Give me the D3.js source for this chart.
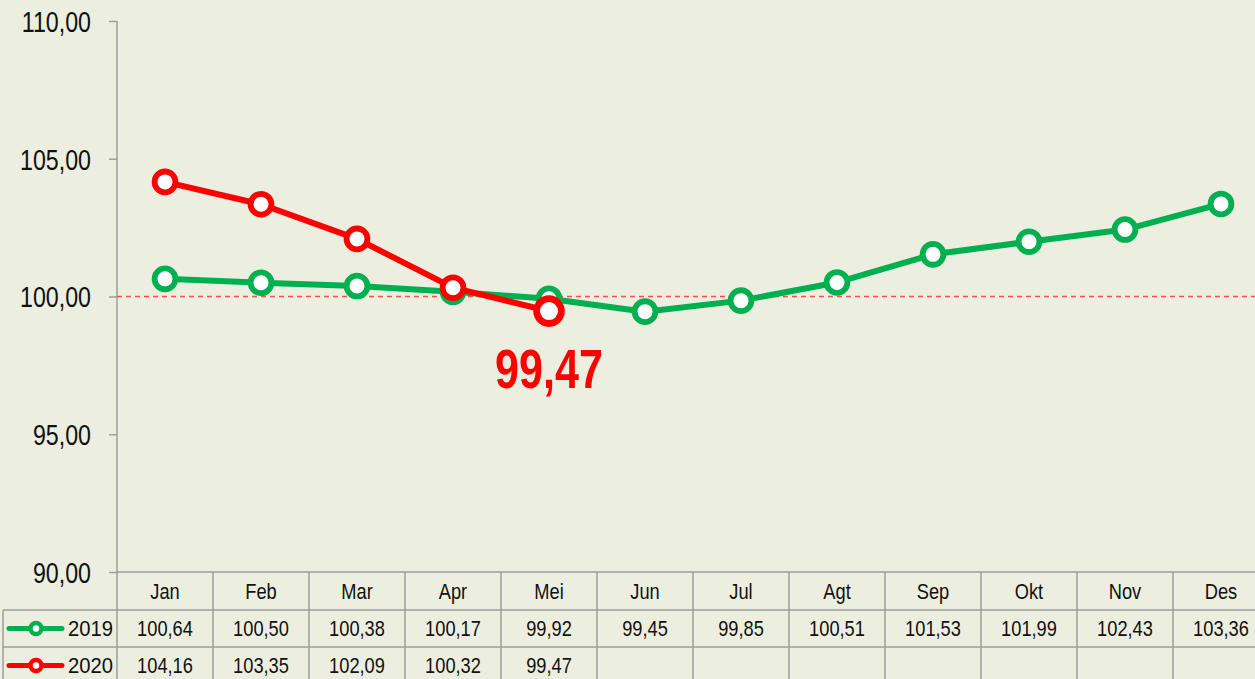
<!DOCTYPE html>
<html><head><meta charset="utf-8">
<script src="https://cdn.jsdelivr.net/npm/d3@7"></script>
<style>
html,body{margin:0;padding:0;background:#ECEFDF;}
svg{display:block;}
</style></head>
<body>
<svg id="c" width="1255" height="679"></svg>
<script>
const months = ["Jan","Feb","Mar","Apr","Mei","Jun","Jul","Agt","Sep","Okt","Nov","Des"];
const values2019 = [100.64,100.50,100.38,100.17,99.92,99.45,99.85,100.51,101.53,101.99,102.43,103.36];
const values2020 = [104.16,103.35,102.09,100.32,99.47];
const yTicks = [90,95,100,105,110];
const seriesNames = ["2019","2020"];
const seriesColors = ["#00B050","#FF0000"];
const highlightLabel = "99,47";

(function(){
const FONT = "'Liberation Sans',Arial,sans-serif";
const fmt = v => v.toFixed(2).replace(".", ",");
const NARROW = 0.83;

const svg = d3.select("#c");
const plotLeft = 117, plotTop = 21, plotBottom = 572;
const colW = 96;
const x = d3.scaleBand().domain(months).range([plotLeft, plotLeft + colW*months.length]).padding(0);
const y = d3.scaleLinear().domain([90,110]).range([plotBottom, plotTop]);
const cx = m => x(m) + x.bandwidth()/2;

const grid = "#9E9E9E";

// Y axis
const yAxis = d3.axisLeft(y).tickValues(yTicks).tickSize(8).tickFormat(fmt);
const ya = svg.append("g").attr("transform", `translate(${plotLeft},0)`).call(yAxis);
ya.select(".domain").remove();
ya.selectAll(".tick line").attr("stroke", grid).attr("stroke-width", 1.5);
ya.selectAll(".tick text").attr("font-family", FONT).attr("font-size", 29).attr("fill", "#111")
  .attr("x", 0).attr("dy", "0.36em")
  .attr("transform", `translate(-26,0) scale(0.8,1)`);

const rowH = [572, 610, 647, 684];
svg.append("line").attr("x1", plotLeft).attr("x2", plotLeft).attr("y1", plotTop).attr("y2", 684).attr("stroke", grid).attr("stroke-width", 1.5);

svg.append("line").attr("x1", plotLeft).attr("x2", 1270).attr("y1", rowH[0]).attr("y2", rowH[0]).attr("stroke", grid).attr("stroke-width", 1.5);
svg.append("line").attr("x1", 3).attr("x2", 1270).attr("y1", rowH[1]).attr("y2", rowH[1]).attr("stroke", grid).attr("stroke-width", 1.5);
svg.append("line").attr("x1", 3).attr("x2", 1270).attr("y1", rowH[2]).attr("y2", rowH[2]).attr("stroke", grid).attr("stroke-width", 1.5);
svg.append("line").attr("x1", 3).attr("x2", 3).attr("y1", rowH[1]).attr("y2", 684).attr("stroke", grid).attr("stroke-width", 1.5);
svg.append("g").selectAll("line").data(months.slice(1)).join("line")
  .attr("x1", d => x(d)).attr("x2", d => x(d))
  .attr("y1", rowH[0]).attr("y2", 684)
  .attr("stroke", grid).attr("stroke-width", 1.5);

svg.append("g").selectAll("text").data(months).join("text")
  .attr("transform", d => `translate(${cx(d)},${(rowH[0]+rowH[1])/2}) scale(${NARROW},1)`)
  .attr("dy","0.36em")
  .attr("text-anchor","middle").attr("font-family", FONT).attr("font-size", 22).attr("fill","#111")
  .text(d => d);

[values2019, values2020].forEach((vals, i) => {
  const yc = (rowH[i+1] + rowH[i+2]) / 2;
  svg.append("g").selectAll("text").data(vals).join("text")
    .attr("transform", (d, j) => `translate(${cx(months[j])},${yc}) scale(${NARROW},1)`)
    .attr("dy","0.36em")
    .attr("text-anchor","middle").attr("font-family", FONT).attr("font-size", 22).attr("fill","#111")
    .text(d => fmt(d));
  const lg = svg.append("g");
  lg.append("line").attr("x1", 9).attr("x2", 62).attr("y1", yc).attr("y2", yc)
    .attr("stroke", seriesColors[i]).attr("stroke-width", 5).attr("stroke-linecap","round");
  lg.append("circle").attr("cx", 36).attr("cy", yc).attr("r", 5.5)
    .attr("fill","#fff").attr("stroke", seriesColors[i]).attr("stroke-width", 4.5);
  lg.append("text").attr("transform", `translate(113,${yc}) scale(0.92,1)`).attr("dy","0.36em").attr("text-anchor","end")
    .attr("font-family", FONT).attr("font-size", 22).attr("fill","#111").text(seriesNames[i]);
});

svg.append("line").attr("x1", plotLeft).attr("x2", 1255).attr("y1", y(100)).attr("y2", y(100))
  .attr("stroke", "#FF4B4B").attr("stroke-width", 1.5).attr("stroke-dasharray", "5,4");

const line = d3.line().x((d,i) => cx(months[i])).y(d => y(d));
[values2019, values2020].forEach((vals, i) => {
  svg.append("path").datum(vals).attr("d", line).attr("fill","none")
    .attr("stroke", seriesColors[i]).attr("stroke-width", 6).attr("stroke-linejoin","round");
  svg.append("g").selectAll("circle").data(vals).join("circle")
    .attr("cx", (d,j) => cx(months[j])).attr("cy", d => y(d))
    .attr("r", (d,j) => (i === 1 && j === vals.length-1) ? 12.4 : 10.4)
    .attr("stroke-width", (d,j) => (i === 1 && j === vals.length-1) ? 6.8 : 5.8)
    .attr("fill","#fff").attr("stroke", seriesColors[i]);
});

const last = values2020.length - 1;
svg.append("text").attr("transform", `translate(${cx(months[last])},388) scale(0.77,1)`)
  .attr("text-anchor","middle").attr("font-family", FONT).attr("font-weight","bold")
  .attr("font-size", 56).attr("fill","#FF0000").text(highlightLabel);
})();
</script>
</body></html>
